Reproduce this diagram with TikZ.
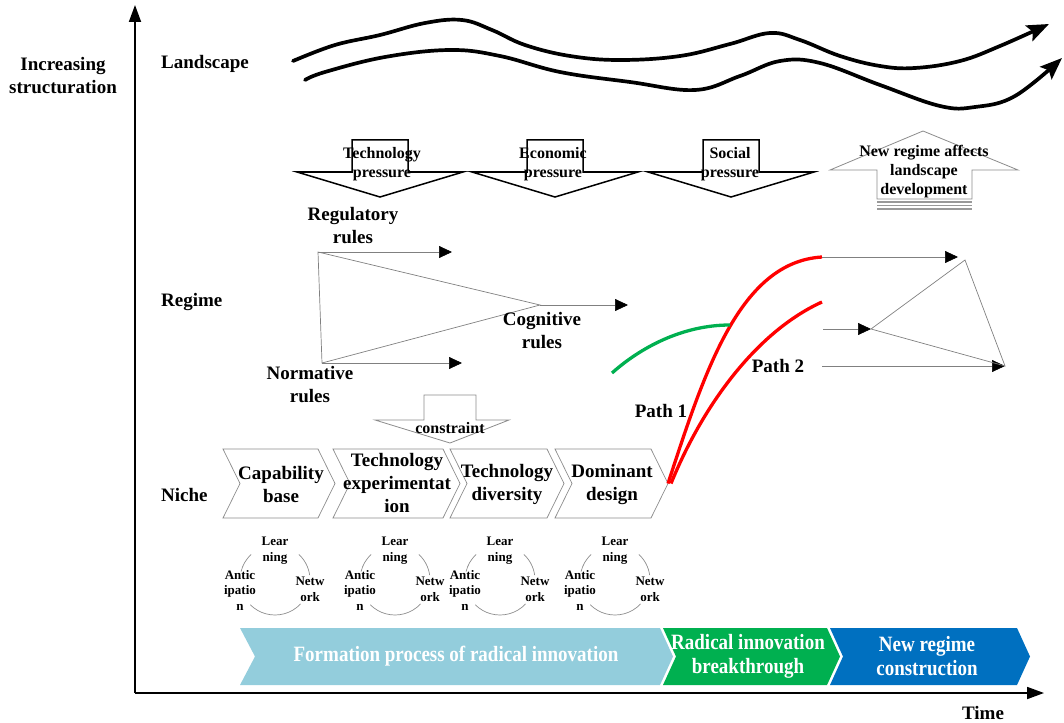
\documentclass[tikz,border=0pt]{standalone}
\usepackage{fontspec}
\setmainfont{Liberation Serif}
\usetikzlibrary{arrows.meta}
\definecolor{bannerA}{HTML}{93CDDC}
\definecolor{bannerB}{HTML}{00B050}
\definecolor{bannerC}{HTML}{0070C0}
\definecolor{pathred}{HTML}{FF0000}
\definecolor{pathgreen}{HTML}{00B050}
\begin{document}
\begin{tikzpicture}[x=1pt,y=1pt,
  lbl/.style={font=\bfseries\fontsize{19}{23}\selectfont,align=center,inner sep=0pt},
  mid/.style={font=\bfseries\fontsize{16}{19}\selectfont,align=center,inner sep=0pt},
  tiny/.style={font=\bfseries\fontsize{13}{15.5}\selectfont,align=center,inner sep=0pt},
  ban/.style={font=\bfseries\fontsize{19}{23}\selectfont,align=center,inner sep=0pt,text=white},
  gline/.style={draw=black!50,line width=0.7pt},
  tri/.style={-{Triangle[length=13pt,width=12pt,color=black]}},
  wave/.style={line width=3.7pt,line cap=round,-{Stealth[length=22pt,width=17pt,inset=4pt]}},
  axisline/.style={line width=1.8pt,-{Triangle[length=17pt,width=12pt]}},
  blockdown/.style={draw=black,line width=1.5pt,fill=white,line join=miter},
  blockgrey/.style={draw=black!45,line width=0.8pt,fill=white},
  chev/.style={draw=black!45,line width=0.7pt,fill=white},
  cyc/.style={draw=black!45,line width=0.7pt},
  pics/pressure/.style={code={
    \draw[blockdown] (-28,0) -- (28,0) -- (28,-32) -- (83,-32) -- (0,-57) -- (-83,-32) -- (-28,-32) -- cycle;}},
  pics/cycle/.style={code={
    \draw[cyc] (133:35) arc[start angle=133,end angle=166,radius=35];
    \draw[cyc] (8:35) arc[start angle=8,end angle=47,radius=35];
    \draw[cyc] (225:35) arc[start angle=225,end angle=317,radius=35];
    \node[tiny] (-l) at (0,29.5) {Lear\\ning};
    \node[tiny] (-a) at (-35,-10) {Antic\\ipatio\\n};
    \node[tiny] (-n) at (35,-9.5) {Netw\\ork};}}
]
\useasboundingbox (0,0) rectangle (1064,-722);

% axes
\coordinate (origin) at (135,-693);
\coordinate (ytop) at (135,-5);
\coordinate (xend) at (1044,-693);
\draw[axisline] (origin) -- (ytop);
\draw[axisline] (origin) -- (xend);
\node[lbl] (timelbl) at (983,-713) {Time};
\node[lbl] (ylbl) at (63,-76) {Increasing\\structuration};
\node[lbl,anchor=west] (land) at (161,-64) {Landscape};
\node[lbl,anchor=west] (regime) at (161,-302) {Regime};
\node[lbl,anchor=west] (niche) at (161,-495) {Niche};

% landscape waves
\draw[wave] plot[smooth,tension=0.65] coordinates {(293,-61) (335,-45) (380,-35) (425,-23) (462,-20) (492,-30) (525,-45) (570,-56) (620,-60) (680,-56) (730,-44) (770,-33) (800,-40) (840,-56) (880,-66) (915,-68) (960,-61) (1000,-46) (1049,-24)};
\draw[wave] plot[smooth,tension=0.65] coordinates {(305,-80) (325,-72) (385,-57) (450,-50) (500,-56) (560,-72) (630,-82) (695,-90) (740,-76) (780,-61) (820,-63) (880,-85) (940,-106) (975,-107) (1015,-96) (1062,-58)};

% pressure arrows
\pic at (380,-140) {pressure};
\pic at (555,-140) {pressure};
\pic at (731,-140) {pressure};
\node[mid] (tp) at (382,-164) {Technology\\pressure};
\node[mid] (ep) at (553,-164) {Economic\\pressure};
\node[mid] (sp) at (730,-164) {Social\\pressure};

% new regime up arrow
\draw[blockgrey] (877,-199) -- (877,-170) -- (830,-170) -- (923,-131) -- (1018,-170) -- (972,-170) -- (972,-199) -- cycle;
\draw[draw=black!40,line width=1.3pt] (877,-202) -- (972,-202);
\draw[draw=black!40,line width=1.3pt] (877,-205.5) -- (972,-205.5);
\draw[draw=black!40,line width=1.3pt] (877,-209) -- (972,-209);
\node[mid] (nr) at (924,-172) {New regime affects\\landscape\\development};

% regime triangle
\coordinate (reg) at (318,-252);
\coordinate (nor) at (322,-363);
\coordinate (cog) at (540,-305);
\coordinate (regE) at (452,-252);
\coordinate (norE) at (462,-363);
\coordinate (cogE) at (628,-305);
\draw[gline] (reg) -- (nor) -- (cog) -- cycle;
\draw[gline,tri] (reg) -- (regE);
\draw[gline,tri] (nor) -- (norE);
\draw[gline,tri] (cog) -- (cogE);
\node[lbl] (reglbl) at (353,-226) {Regulatory\\rules};
\node[lbl] (norlbl) at (310,-385) {Normative\\rules};
\node[lbl] (coglbl) at (542,-331) {Cognitive\\rules};

% constraint arrow
\draw[blockgrey] (424,-395) -- (476,-395) -- (476,-420) -- (509,-420) -- (450,-443) -- (375,-420) -- (424,-420) -- cycle;
\node[mid] (cons) at (450,-428) {constraint};

% niche chevrons
\draw[chev] (223,-449) -- (318,-449) -- (335,-483.5) -- (318,-518) -- (223,-518) -- (240,-483.5) -- cycle;
\draw[chev] (333,-449) -- (443,-449) -- (460,-483.5) -- (443,-518) -- (333,-518) -- (350,-483.5) -- cycle;
\draw[chev] (450,-449) -- (547,-449) -- (564,-483.5) -- (547,-518) -- (450,-518) -- (467,-483.5) -- cycle;
\draw[chev] (555,-449) -- (651,-449) -- (668,-483.5) -- (651,-518) -- (555,-518) -- (572,-483.5) -- cycle;
\node[lbl] (n1) at (281,-484.5) {Capability\\base};
\node[lbl] (n2) at (397,-483) {Technology\\experimentat\\ion};
\node[lbl] (n3) at (507,-484.5) {Technology\\diversity};
\node[lbl] (n4) at (612,-484.5) {Dominant\\design};

% learning cycles
\pic (c1) at (275,-580) {cycle};
\pic (c2) at (395,-580) {cycle};
\pic (c3) at (500,-580) {cycle};
\pic (c4) at (615,-580) {cycle};

% paths
\coordinate (start1) at (668,-483.5);
\coordinate (start2) at (671,-483.5);
\coordinate (p1end) at (822,-257);
\coordinate (p2end) at (822,-302);
\coordinate (gstart) at (612,-373);
\coordinate (gend) at (730,-325);
\draw[pathred,line width=3.3pt] (start1) .. controls (705,-370) and (740,-262) .. (p1end);
\draw[pathred,line width=3.3pt] (start2) .. controls (705,-400) and (760,-330) .. (p2end);
\draw[pathgreen,line width=3.3pt] (gstart) .. controls (640,-348) and (682,-325) .. (gend);
\node[lbl] (path1) at (661,-411) {Path 1};
\node[lbl] (path2) at (778,-366) {Path 2};

% new regime triangle
\coordinate (A) at (965,-260);
\coordinate (Aarr) at (958,-257);
\coordinate (B) at (871,-329);
\coordinate (Bstart) at (823,-329);
\coordinate (C) at (1005,-366);
\coordinate (Cstart) at (822,-366);
\draw[gline,tri] (p1end) -- (Aarr);
\draw[gline,tri] (Bstart) -- (B);
\draw[gline,tri] (Cstart) -- (C);
\draw[gline] (A) -- (B) -- (C) -- cycle;

% bottom banner
\fill[bannerA] (240,-628) -- (660,-628) -- (673,-656.5) -- (660,-685) -- (240,-685) -- (255,-656.5) -- cycle;
\fill[bannerB] (663,-628) -- (827,-628) -- (840,-656.5) -- (827,-685) -- (663,-685) -- (676,-656.5) -- cycle;
\fill[bannerC] (830,-628) -- (1017,-628) -- (1030,-656.5) -- (1017,-685) -- (830,-685) -- (843,-656.5) -- cycle;
\node[ban] (b1) at (456,-656.5) {\scalebox{1}[1.15]{Formation process of radical innovation}};
\node[ban] (b2) at (748,-656.5) {\scalebox{1}[1.15]{Radical innovation}\\[1pt]\scalebox{1}[1.15]{breakthrough}};
\node[ban] (b3) at (927,-656.5) {\scalebox{1}[1.15]{New regime}\\[1pt]\scalebox{1}[1.15]{construction}};
\end{tikzpicture}
\end{document}
